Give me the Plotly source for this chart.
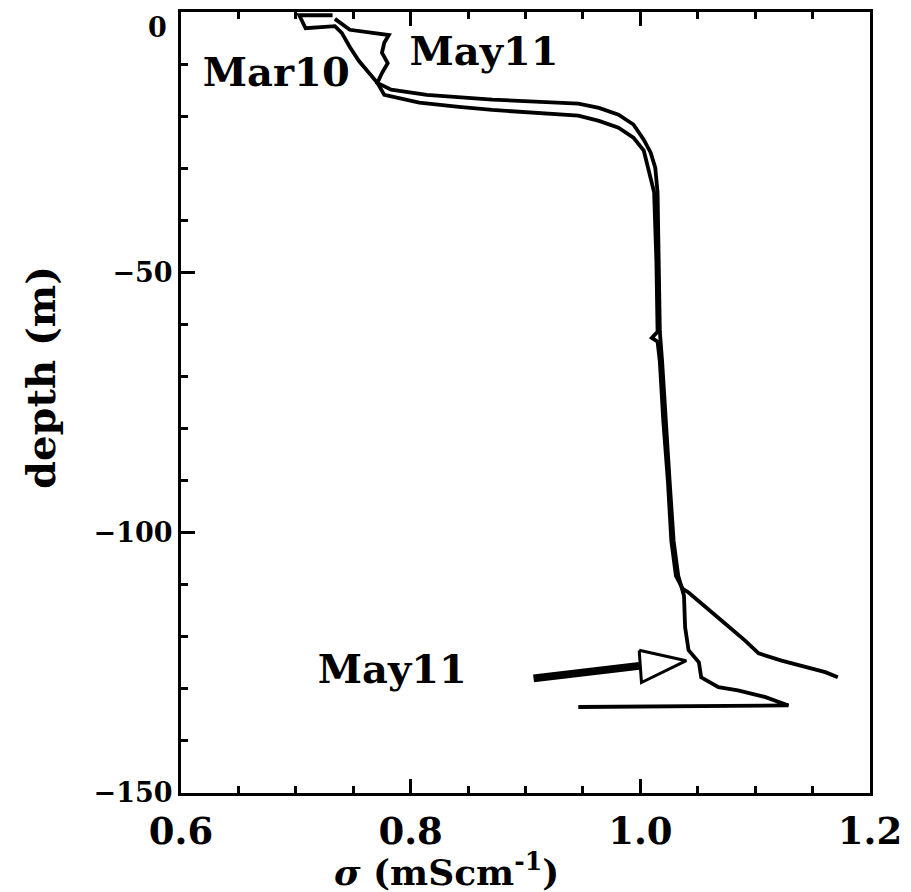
import plotly.graph_objects as go

# ---- data ----
mar10_sigma = [0.732, 0.703, 0.7085, 0.734, 0.740, 0.747, 0.755, 0.764, 0.771,
               0.777, 0.8075, 0.842, 0.871, 0.946, 0.964, 0.981, 0.994, 1.003,
               1.007, 1.010, 1.012, 1.014, 1.015, 1.010, 1.015, 1.017, 1.020,
               1.024, 1.027, 1.031, 1.037, 1.042, 1.057, 1.074, 1.091, 1.103,
               1.123, 1.161, 1.172]
mar10_depth = [-0.6, -0.6, -3.1, -2.7, -4.0, -6.7, -9.4, -11.7, -13.6,
               -15.9, -17.4, -18.2, -18.8, -19.9, -20.9, -22.2, -24.1, -26.6,
               -29.9, -32.7, -34.6, -48.0, -61.4, -62.6, -63.3, -67.2, -78.6,
               -90.1, -101.6, -108.3, -110.8, -111.5, -114.4, -117.5, -120.7, -123.2,
               -124.6, -126.8, -127.8]

may11_sigma = [0.734, 0.747, 0.781, 0.777, 0.775, 0.780, 0.775, 0.771,
               0.783, 0.814, 0.871, 0.946, 0.964, 0.981, 0.994, 1.003, 1.009,
               1.013, 1.015, 1.016, 1.017, 1.019, 1.022, 1.0255, 1.029, 1.033,
               1.038, 1.039, 1.042, 1.051, 1.053, 1.068, 1.085, 1.109, 1.129, 0.946]
may11_depth = [-1.3, -3.4, -4.4, -5.9, -7.8, -9.8, -11.7, -13.6,
               -14.9, -15.9, -16.8, -17.6, -18.4, -19.7, -21.6, -24.5, -27.0,
               -29.9, -34.6, -48.0, -61.4, -67.2, -78.6, -90.1, -101.6, -108.3,
               -112.1, -118.2, -122.6, -124.9, -127.8, -129.7, -130.3, -131.6, -133.2, -133.5]

# label positions / texts
labels_text = ["Mar10", "May11", "May11"]
labels_sigma = [0.683, 0.864, 0.784]
labels_depth = [-12.3, -8.2, -127.0]

# arrow (shaft + open head)
arrow_shaft_sigma = [0.907, 0.999]
arrow_shaft_depth = [-128.0, -125.6]
arrow_head_sigma = [0.999, 1.040, 1.001, 0.999]
arrow_head_depth = [-122.6, -124.6, -128.8, -122.6]

x_ticks = [0.6, 0.8, 1.0, 1.2]
x_ticklabels = ["0.6", "0.8", "1.0", "1.2"]
y_ticks = [0, -50, -100, -150]
y_ticklabels = ["", "−50", "−100", "−150"]
y_top_label = "0"

SERIF = "DejaVu Serif"

fig = go.Figure()
fig.add_trace(go.Scatter(x=mar10_sigma, y=mar10_depth, mode="lines",
                         line=dict(color="black", width=3.8), showlegend=False))
fig.add_trace(go.Scatter(x=may11_sigma, y=may11_depth, mode="lines",
                         line=dict(color="black", width=3.8), showlegend=False))
fig.add_trace(go.Scatter(x=arrow_shaft_sigma, y=arrow_shaft_depth, mode="lines",
                         line=dict(color="black", width=8), showlegend=False))
fig.add_trace(go.Scatter(x=arrow_head_sigma, y=arrow_head_depth, mode="lines",
                         fill="toself", fillcolor="white",
                         line=dict(color="black", width=3), showlegend=False))
fig.add_trace(go.Scatter(x=labels_sigma, y=labels_depth, mode="text",
                         text=labels_text,
                         textfont=dict(family=SERIF, size=40, color="black", weight="bold"),
                         showlegend=False))

common = dict(showline=True, linecolor="black", linewidth=3,
              ticks="inside", ticklen=14, tickwidth=3, tickcolor="black",
              showgrid=False, zeroline=False)
fig.update_xaxes(range=[0.6, 1.2], tickvals=x_ticks, ticktext=x_ticklabels,
                 mirror="allticks",
                 tickfont=dict(family=SERIF, size=37, color="black", weight="bold"),
                 ticklabelstandoff=4,
                 minor=dict(dtick=0.05, ticks="inside", ticklen=7, tickwidth=3, tickcolor="black"),
                 **common)
fig.update_yaxes(range=[-150.02, 0.02], tickvals=y_ticks, ticktext=y_ticklabels,
                 mirror=True,
                 tickfont=dict(family=SERIF, size=27, color="black", weight="bold"),
                 minor=dict(dtick=10, ticks="inside", ticklen=7, tickwidth=3, tickcolor="black"),
                 **common)

fig.add_annotation(xref="paper", yref="paper", x=-0.018, y=1.0,
                   xanchor="right", yanchor="top", yshift=2,
                   text=y_top_label, showarrow=False,
                   font=dict(family=SERIF, size=27, color="black", weight="bold"))
fig.add_annotation(xref="paper", yref="paper", x=0.385, y=-0.098,
                   xanchor="center", yanchor="middle",
                   text="<i>σ</i> (mScm<sup>-1</sup>)", showarrow=False,
                   font=dict(family=SERIF, size=36, color="black", weight="bold"))
fig.add_annotation(xref="paper", yref="paper", x=-0.204, y=0.532, textangle=-90,
                   xanchor="center", yanchor="middle",
                   text="depth (m)", showarrow=False,
                   font=dict(family=SERIF, size=40, color="black", weight="bold"))

fig.update_layout(
    width=911, height=892,
    margin=dict(l=181, r=39, t=9, b=99),
    paper_bgcolor="white", plot_bgcolor="white",
)
fig.write_html("out.html")
